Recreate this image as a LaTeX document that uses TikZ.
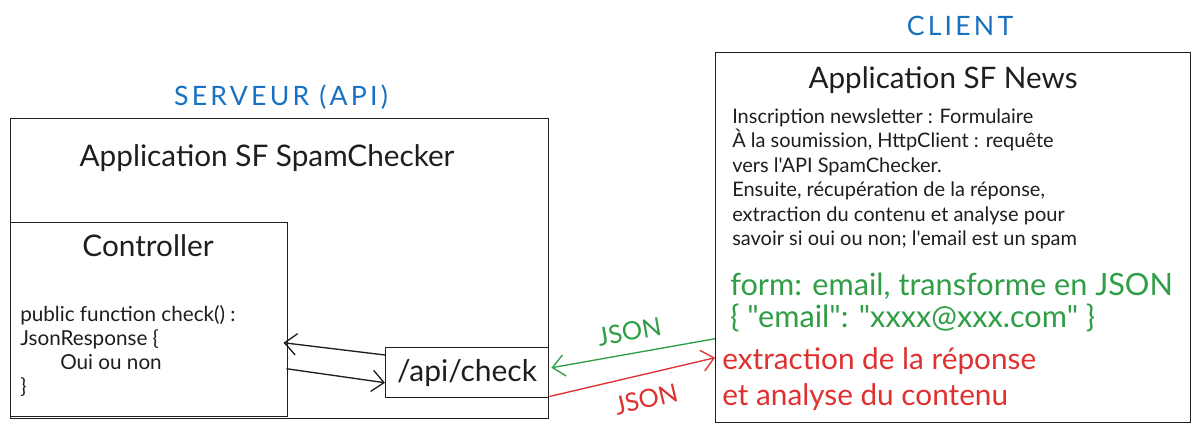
\documentclass[tikz,border=0pt]{standalone}
\usepackage{fontspec}
\setmainfont{Lato}
\newfontfamily\hand{Lato}
\usetikzlibrary{arrows.meta}
\definecolor{xblue}{HTML}{1971C2}
\definecolor{xgreen}{HTML}{2F9E44}
\definecolor{xred}{HTML}{E03131}
\definecolor{xink}{HTML}{1E1E1E}
\begin{document}
\begin{tikzpicture}[x=0.75pt,y=-0.75pt,
  box/.style={draw=xink,line width=1.1pt,anchor=north west,inner sep=0pt},
  arr/.style={line width=1pt,-{Straight Barb[length=9pt,width=16pt,line width=1pt]}},
  txt/.style={inner sep=0pt,text=xink},
  head/.style={inner sep=0pt,text=xblue,font=\hand\fontsize{20}{24}\selectfont\addfontfeature{LetterSpace=12}},
  jsn/.style={sloped,font=\hand\fontsize{19}{22}\selectfont,inner sep=0pt},
  blk/.style={inner sep=0pt,anchor=north west,align=left}]
\fill[white] (0,0) rectangle (1201,432);
\useasboundingbox (0,0) rectangle (1201,432);

% boxes
\node[box,minimum width={538*0.75pt},minimum height={300*0.75pt}] (srv) at (10,118) {};
\node[box,minimum width={277*0.75pt},minimum height={194*0.75pt}] (ctrl) at (10,222) {};
\node[box,minimum width={163*0.75pt},minimum height={50*0.75pt}] (api) at (385,347) {};
\node[box,minimum width={475*0.75pt},minimum height={370*0.75pt}] (cli) at (715,52) {};

% titles
\node[head] (tsrv) at (281,97) {SERVEUR (API)};
\node[head] (tcli) at (960,26) {CLIENT};
\node[txt,font=\hand\fontsize{22.3}{26}\selectfont] (asrv) at (267,158) {Application SF SpamChecker};
\node[txt,font=\hand\fontsize{22.3}{26}\selectfont] (actrl) at (148,246) {Controller};
\node[txt,font=\hand\fontsize{22.5}{26}\selectfont] (aapi) at (467,373) {/api/check};
\node[txt,font=\hand\fontsize{22.2}{26}\selectfont] (acli) at (943,80) {Application SF News};

% code
\node[blk,text=xink,font=\hand\fontsize{15.5}{18}\selectfont] (code) at (20,305)
 {public function check() :\\JsonResponse \{\\\hspace*{30pt}Oui ou non\\\}};

% client body
\node[blk,text=xink,font=\hand\fontsize{15}{18.4}\selectfont] (body) at (732,108)
 {Inscription newsletter : Formulaire\\
  À la soumission, HttpClient : requête\\
  vers l'API SpamChecker.\\
  Ensuite, récupération de la réponse,\\
  extraction du contenu et analyse pour\\
  savoir si oui ou non; l'email est un spam};

\node[blk,text=xgreen,font=\hand\fontsize{23}{24}\selectfont] (green) at (730,273)
 {form: email, transforme en JSON\\\{ "email": "xxxx@xxx.com" \}};
\node[blk,text=xred,font=\hand\fontsize{22.3}{27}\selectfont] (red) at (722,347)
 {extraction de la réponse\\et analyse du contenu};

% arrows inside server
\draw[arr,draw=xink] ([shift={(0,8)}]api.north west) -- ([shift={(-5,23)}]ctrl.east);
\draw[arr,draw=xink] ([shift={(-2,49)}]ctrl.east) -- ([shift={(0,10)}]api.west);

% JSON arrows
\draw[arr,draw=xgreen] ([shift={(0,101)}]cli.west) -- ([shift={(2,-5)}]api.east)
  node[jsn,pos=0.5,above=9pt,text=xgreen] (j1) {JSON};
\draw[arr,draw=xred] ([shift={(0,-2)}]api.south east) -- ([shift={(0,120)}]cli.west)
  node[jsn,pos=0.55,below=11pt,text=xred] (j2) {JSON};
\end{tikzpicture}
\end{document}
